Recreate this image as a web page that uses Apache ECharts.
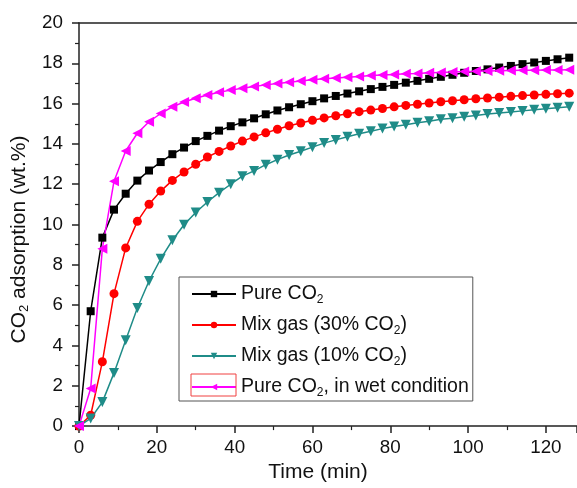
<!DOCTYPE html>
<html>
<head>
<meta charset="utf-8">
<script src="https://cdn.jsdelivr.net/npm/echarts@6/dist/echarts.min.js"></script>
<style>
html, body { margin: 0; padding: 0; background: #fff; }
#main { width: 577px; height: 488px; }
</style>
</head>
<body>
<div id="main"></div>
<script>
// time in minutes, one point every 3 min
var times = [0, 3, 6, 9, 12, 15, 18, 21, 24, 27, 30, 33, 36, 39, 42, 45, 48, 51, 54, 57,
    60, 63, 66, 69, 72, 75, 78, 81, 84, 87, 90, 93, 96, 99, 102, 105, 108, 111, 114, 117,
    120, 123, 126];

var pureCO2 = [0, 5.7, 9.35, 10.74, 11.53, 12.18, 12.68, 13.1, 13.49, 13.82,
    14.14, 14.4, 14.66, 14.88, 15.07, 15.27, 15.47, 15.66, 15.82, 15.97,
    16.12, 16.26, 16.38, 16.5, 16.61, 16.72, 16.83, 16.93, 17.04, 17.13,
    17.23, 17.33, 17.43, 17.53, 17.62, 17.7, 17.79, 17.87, 17.96, 18.04,
    18.12, 18.2, 18.28];

var mix30 = [0, 0.54, 3.19, 6.57, 8.84, 10.16, 11.01, 11.66, 12.19, 12.61,
    12.99, 13.35, 13.63, 13.9, 14.14, 14.35, 14.55, 14.73, 14.9, 15.04,
    15.17, 15.29, 15.4, 15.5, 15.6, 15.68, 15.76, 15.84, 15.91, 15.97,
    16.03, 16.09, 16.14, 16.19, 16.24, 16.28, 16.32, 16.36, 16.4, 16.43,
    16.46, 16.49, 16.52];

var mix10 = [0, 0.38, 1.19, 2.64, 4.26, 5.86, 7.2, 8.3, 9.22, 9.99,
    10.6, 11.12, 11.58, 12.0, 12.4, 12.66, 12.97, 13.22, 13.45, 13.64,
    13.84, 14.04, 14.2, 14.36, 14.5, 14.63, 14.76, 14.86, 14.95, 15.05,
    15.13, 15.22, 15.28, 15.35, 15.41, 15.48, 15.53, 15.58, 15.64, 15.69,
    15.74, 15.79, 15.84];

var wetCO2 = [0, 1.87, 8.8, 12.15, 13.65, 14.53, 15.1, 15.51, 15.84, 16.08,
    16.27, 16.43, 16.56, 16.67, 16.76, 16.85, 16.93, 17.0, 17.06, 17.12,
    17.18, 17.23, 17.27, 17.31, 17.35, 17.39, 17.42, 17.45, 17.48, 17.5,
    17.53, 17.55, 17.57, 17.59, 17.6, 17.62, 17.63, 17.64, 17.65, 17.66,
    17.67, 17.67, 17.68];

var seriesNames = ['Pure CO2', 'Mix gas (30% CO2)', 'Mix gas (10% CO2)', 'Pure CO2, in wet condition'];
var legendLabels = {
    'Pure CO2': '{a|Pure CO}{s|2}',
    'Mix gas (30% CO2)': '{a|Mix gas (30% CO}{s|2}{a|)}',
    'Mix gas (10% CO2)': '{a|Mix gas (10% CO}{s|2}{a|)}',
    'Pure CO2, in wet condition': '{a|Pure CO}{s|2}{a|, in wet condition}'
};

function pairs(vals) {
    var out = [];
    for (var i = 0; i < times.length; i++) {
        out.push([times[i], vals[i]]);
    }
    return out;
}

var font = 'Liberation Sans';
var chart = echarts.init(document.getElementById('main'));

var option = {
    backgroundColor: '#fff',
    animation: false,
    grid: {
        left: 79,
        right: 0,
        top: 23,
        bottom: 57
    },
    legend: {
        orient: 'vertical',
        left: 179,
        top: 277,
        data: seriesNames,
        itemWidth: 44,
        itemHeight: 8,
        itemGap: 9,
        padding: [7, 4, 2, 12],
        borderColor: '#555',
        borderWidth: 1,
        formatter: function (name) {
            return legendLabels[name];
        },
        textStyle: {
            fontFamily: font,
            color: '#111',
            rich: {
                a: { fontSize: 19.5, fontFamily: font, color: '#111' },
                s: { fontSize: 12, fontFamily: font, color: '#111', padding: [12, 0, 0, 0] }
            }
        }
    },
    xAxis: [{
        type: 'value',
        min: 0,
        max: 128,
        interval: 20,
        name: 'Time (min)',
        nameLocation: 'middle',
        nameGap: 34,
        nameTextStyle: { fontFamily: font, fontSize: 21, color: '#111', padding: [0, 20, 0, 0] },
        splitLine: { show: false },
        axisLine: { lineStyle: { color: '#222', width: 1.5 } },
        axisTick: { inside: false, length: 7, lineStyle: { color: '#222', width: 1.5 } },
        minorTick: { show: true, splitNumber: 2, length: 4, lineStyle: { color: '#222', width: 1.2 } },
        axisLabel: {
            showMaxLabel: false,
            margin: 12,
            fontFamily: font,
            fontSize: 18.8,
            color: '#111'
        }
    }, {
        type: 'value',
        position: 'top',
        min: 0,
        max: 128,
        axisLine: { show: true, lineStyle: { color: '#222', width: 1.5 } },
        axisTick: { show: false },
        axisLabel: { show: false },
        splitLine: { show: false }
    }],
    yAxis: {
        type: 'value',
        min: 0,
        max: 20,
        interval: 2,
        name: '{a|CO}{s|2}{a| adsorption (wt.%)}',
        nameLocation: 'middle',
        nameGap: 40,
        nameTextStyle: {
            padding: [0, 30, 0, 0],
            rich: {
                a: { fontSize: 21, fontFamily: font, color: '#111' },
                s: { fontSize: 13, fontFamily: font, color: '#111', padding: [12, 0, 0, 0] }
            }
        },
        splitLine: { show: false },
        axisLine: { show: true, lineStyle: { color: '#222', width: 1.5 } },
        axisTick: { show: true, inside: false, length: 7, lineStyle: { color: '#222', width: 1.5 } },
        minorTick: { show: true, splitNumber: 2, length: 4, lineStyle: { color: '#222', width: 1.2 } },
        axisLabel: {
            margin: 16,
            fontFamily: font,
            fontSize: 18.8,
            color: '#111'
        }
    },
    graphic: [{
        type: 'rect',
        shape: { x: 191, y: 374, width: 45, height: 22 },
        style: { fill: 'none', stroke: '#f04040', lineWidth: 1 },
        z: 100
    }],
    series: [
        {
            name: 'Pure CO2',
            type: 'line',
            data: pairs(pureCO2),
            symbol: 'rect',
            symbolSize: 8,
            lineStyle: { color: '#000', width: 1.5 },
            itemStyle: { color: '#000' }
        },
        {
            name: 'Mix gas (30% CO2)',
            type: 'line',
            data: pairs(mix30),
            symbol: 'circle',
            symbolSize: 9,
            lineStyle: { color: '#ff0000', width: 1.5 },
            itemStyle: { color: '#ff0000' }
        },
        {
            name: 'Mix gas (10% CO2)',
            type: 'line',
            data: pairs(mix10),
            symbol: 'triangle',
            symbolRotate: 180,
            symbolSize: 10,
            lineStyle: { color: '#1f8c88', width: 1.5 },
            itemStyle: { color: '#1f8c88' }
        },
        {
            name: 'Pure CO2, in wet condition',
            type: 'line',
            data: pairs(wetCO2),
            symbol: 'triangle',
            symbolRotate: 90,
            symbolSize: 10,
            lineStyle: { color: '#ff00ff', width: 1.5 },
            itemStyle: { color: '#ff00ff' }
        }
    ]
};

chart.setOption(option);
</script>
</body>
</html>
